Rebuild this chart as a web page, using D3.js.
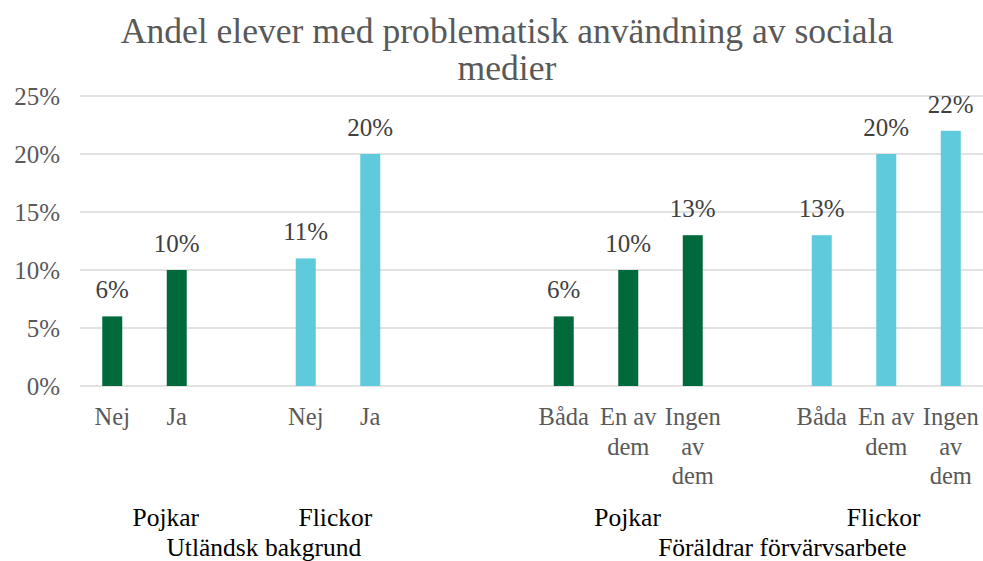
<!DOCTYPE html>
<html>
<head>
<meta charset="utf-8">
<script src="https://cdn.jsdelivr.net/npm/d3@7"></script>
<style>
  body { margin: 0; background: #fff; }
</style>
</head>
<body>
<svg id="chart" width="983" height="561"></svg>
<script>
// slots along the x axis, empty ones are the gaps Excel leaves between groups
const categories = ["Nej", "Ja", "", "Nej", "Ja", "", "", "Båda", "En av\ndem", "Ingen\nav\ndem", "", "Båda", "En av\ndem", "Ingen\nav\ndem"];
const values = [6, 10, null, 11, 20, null, null, 6, 10, 13, null, 13, 20, 22];
const series = ["p", "p", null, "f", "f", null, null, "p", "p", "p", null, "f", "f", "f"];
const yTicks = [0, 5, 10, 15, 20, 25];
// group labels: text, centre in slot units, row
const groupLabels = [
  { text: "Pojkar", pos: 1.33, row: 0 },
  { text: "Flickor", pos: 3.96, row: 0 },
  { text: "Pojkar", pos: 8.49, row: 0 },
  { text: "Flickor", pos: 12.46, row: 0 },
  { text: "Utländsk bakgrund", pos: 2.85, row: 1 },
  { text: "Föräldrar förvärvsarbete", pos: 10.89, row: 1 }
];
const titleLines = ["Andel elever med problematisk användning av sociala", "medier"];

const colors = { p: "#006a3d", f: "#5ecadb" };
const serif = "Liberation Serif";

const svg = d3.select("#chart");
const margin = { left: 80, right: 0 };
const W = 983;

const x = d3.scaleBand()
  .domain(d3.range(categories.length))
  .range([margin.left, W - margin.right])
  .paddingInner(0.69)
  .paddingOuter(0.345);

const slot = (W - margin.left - margin.right) / categories.length;

const y = d3.scaleLinear().domain([0, 25]).range([386, 96]);

// gridlines
svg.append("g")
  .selectAll("line")
  .data(yTicks)
  .join("line")
  .attr("x1", margin.left)
  .attr("x2", W)
  .attr("y1", d => y(d))
  .attr("y2", d => y(d))
  .attr("stroke", "#d9d9d9")
  .attr("stroke-width", 1.5);

// y tick labels
svg.append("g")
  .selectAll("text")
  .data(yTicks)
  .join("text")
  .attr("x", 60)
  .attr("y", d => y(d))
  .attr("dy", "0.35em")
  .attr("text-anchor", "end")
  .attr("fill", "#595959")
  .style("font-family", serif)
  .style("font-size", "25px")
  .text(d => d + "%");

// bars
const idx = d3.range(categories.length).filter(i => values[i] != null);
svg.append("g")
  .selectAll("rect")
  .data(idx)
  .join("rect")
  .attr("x", i => x(i))
  .attr("width", x.bandwidth())
  .attr("y", i => y(values[i]))
  .attr("height", i => y(0) - y(values[i]))
  .attr("fill", i => colors[series[i]]);

// value labels
svg.append("g")
  .selectAll("text")
  .data(idx)
  .join("text")
  .attr("x", i => x(i) + x.bandwidth() / 2)
  .attr("y", i => y(values[i]) - 18)
  .attr("text-anchor", "middle")
  .attr("fill", "#404040")
  .style("font-family", serif)
  .style("font-size", "25px")
  .text(i => values[i] + "%");

// category labels (multi-line)
const cat = svg.append("g")
  .selectAll("text")
  .data(d3.range(categories.length).filter(i => categories[i]))
  .join("text")
  .attr("text-anchor", "middle")
  .attr("fill", "#595959")
  .style("font-family", serif)
  .style("font-size", "24.5px");
cat.each(function (i) {
  const cx = x(i) + x.bandwidth() / 2;
  d3.select(this).selectAll("tspan")
    .data(categories[i].split("\n"))
    .join("tspan")
    .attr("x", cx)
    .attr("y", (d, k) => 425 + k * 29.5)
    .text(d => d);
});

// group labels
svg.append("g")
  .selectAll("text")
  .data(groupLabels)
  .join("text")
  .attr("x", d => margin.left + d.pos * slot)
  .attr("y", d => d.row === 0 ? 526 : 556)
  .attr("text-anchor", "middle")
  .attr("fill", "#000")
  .style("font-family", serif)
  .style("font-size", "25.5px")
  .text(d => d.text);

// title
svg.append("g")
  .selectAll("text")
  .data(titleLines)
  .join("text")
  .attr("x", 507)
  .attr("y", (d, k) => 43 + k * 37)
  .attr("text-anchor", "middle")
  .attr("fill", "#595959")
  .style("font-family", serif)
  .style("font-size", "35.6px")
  .text(d => d);
</script>
</body>
</html>
